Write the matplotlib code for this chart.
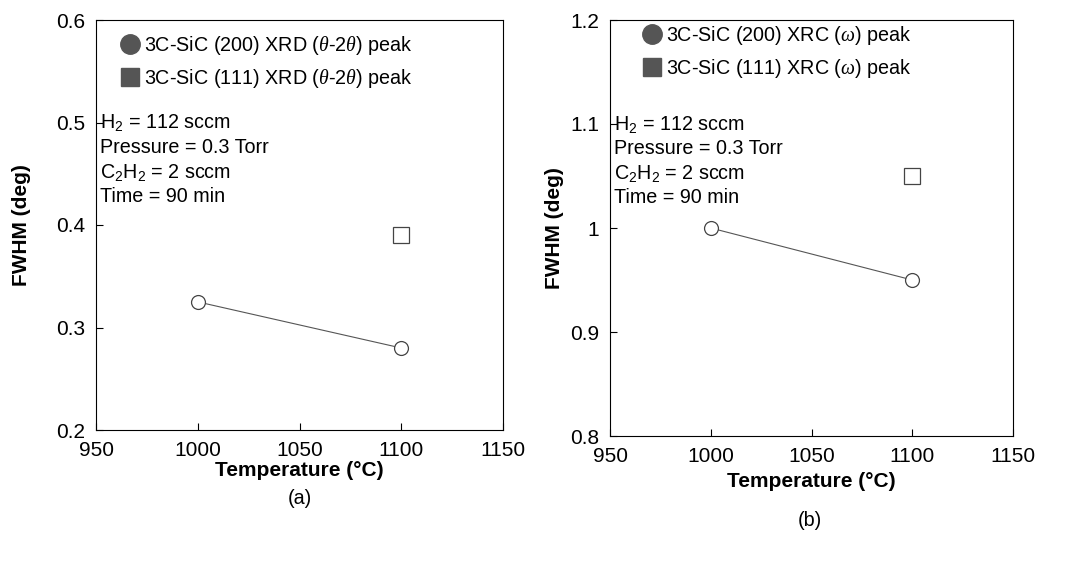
import matplotlib
matplotlib.use("Agg")
import matplotlib.pyplot as plt
from matplotlib.lines import Line2D

plt.rcParams['font.family'] = ['Liberation Sans', 'DejaVu Sans']
plt.rcParams['mathtext.fontset'] = 'custom'
plt.rcParams['mathtext.it'] = 'Liberation Serif:italic'
plt.rcParams['mathtext.rm'] = 'Liberation Sans'

temps_200 = [1000, 1100]
fwhm_a_200 = [0.325, 0.28]
temps_111 = [1100]
fwhm_a_111 = [0.39]
fwhm_b_200 = [1.0, 0.95]
fwhm_b_111 = [1.05]
xticks = [950, 1000, 1050, 1100, 1150]

fig = plt.figure(figsize=(10.69, 5.61), dpi=100)
W, H = 1069, 561
axa = fig.add_axes([96/W, 1-430/H, 407/W, 410/H])
axb = fig.add_axes([610/W, 1-436/H, 403/W, 416/H])

def setup(ax, ylim, yticks, ylabels, leg, legpos, txty, ylpad, xlpad):
    ax.plot(temps_200, ylim[2], color='#555555', lw=0.8, marker='o', ms=10,
            mfc='white', mec='#444444', mew=0.9)
    ax.plot(temps_111, ylim[3], ls='none', marker='s', ms=11,
            mfc='white', mec='#444444', mew=0.9)
    ax.set_xlim(950, 1150)
    ax.set_ylim(ylim[0], ylim[1])
    ax.set_xticks(xticks)
    ax.set_yticks(yticks)
    ax.set_yticklabels(ylabels)
    ax.tick_params(direction='in', labelsize=15, length=5, pad=8)
    ax.set_xlabel('Temperature (°C)', fontsize=15, fontweight='bold', labelpad=xlpad)
    ax.set_ylabel('FWHM (deg)', fontsize=15, fontweight='bold', labelpad=ylpad)
    handles = [Line2D([], [], ls='none', marker='o', ms=14, mfc='#555555', mec='#555555'),
               Line2D([], [], ls='none', marker='s', ms=13, mfc='#555555', mec='#555555')]
    ax.legend(handles, leg, loc='upper left', frameon=False, fontsize=14.2,
              handletextpad=0.1, borderaxespad=0, labelspacing=0.5,
              handlelength=1.2, borderpad=0, bbox_to_anchor=legpos)
    ax.text(0.01, txty, 'H$_2$ = 112 sccm\nPressure = 0.3 Torr\nC$_2$H$_2$ = 2 sccm\nTime = 90 min',
            transform=ax.transAxes, fontsize=14.2, va='top', linespacing=1.3)

setup(axa, (0.2, 0.6, fwhm_a_200, fwhm_a_111), [0.2, 0.3, 0.4, 0.5, 0.6],
      ['0.2', '0.3', '0.4', '0.5', '0.6'],
      [r'3C-SiC (200) XRD ($\it{\theta}$-2$\it{\theta}$) peak',
       r'3C-SiC (111) XRD ($\it{\theta}$-2$\it{\theta}$) peak'],
      (0.055, 0.965), 0.775, 18, 1)
setup(axb, (0.8, 1.2, fwhm_b_200, fwhm_b_111), [0.8, 0.9, 1.0, 1.1, 1.2],
      ['0.8', '0.9', '1', '1.1', '1.2'],
      [r'3C-SiC (200) XRC ($\it{\omega}$) peak',
       r'3C-SiC (111) XRC ($\it{\omega}$) peak'],
      (0.075, 0.99), 0.775, 4, 4)
fig.text(300/W, 1-498/H, '(a)', ha='center', va='center', fontsize=14.2)
fig.text(810/W, 1-520/H, '(b)', ha='center', va='center', fontsize=14.2)
fig.savefig('out.png', dpi=100)
